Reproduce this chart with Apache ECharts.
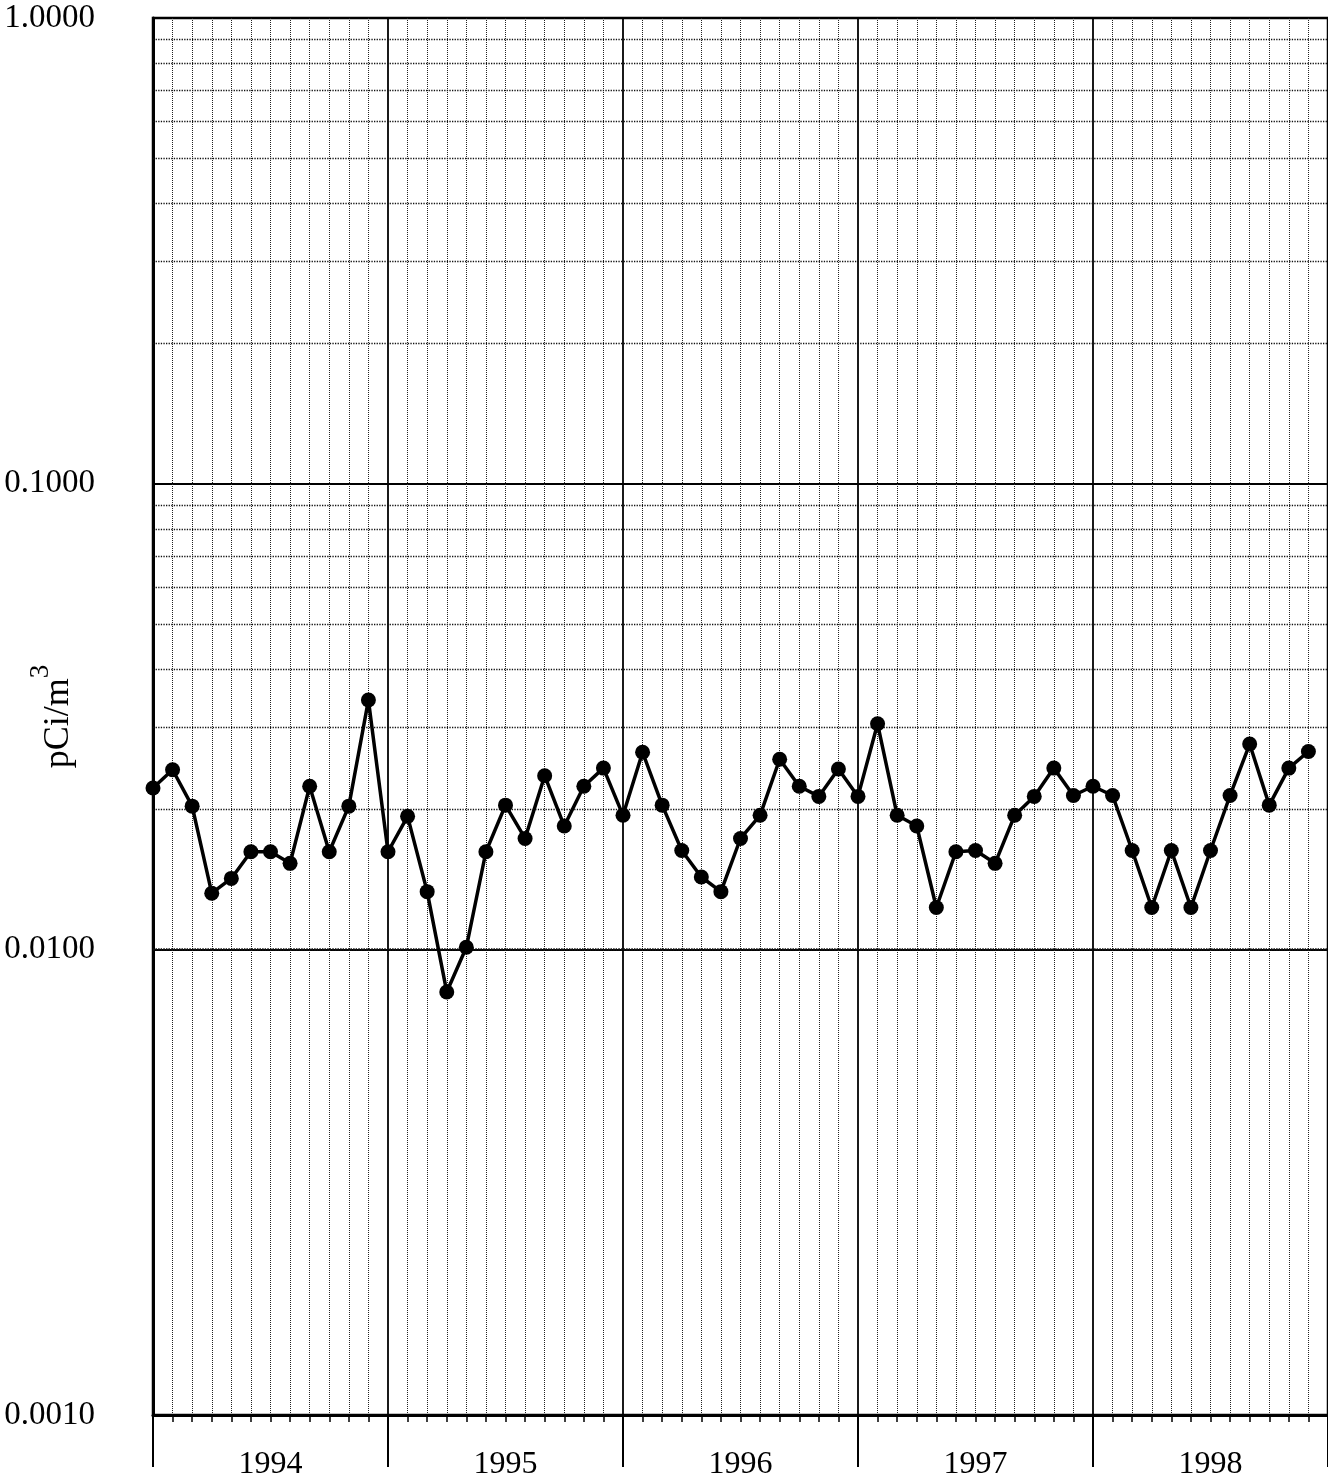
<!DOCTYPE html>
<html>
<head>
<meta charset="utf-8">
<script src="https://cdn.jsdelivr.net/npm/echarts@6/dist/echarts.min.js"></script>
<style>
html,body{margin:0;padding:0;background:#fff;}
#chart{width:1328px;height:1479px;}
</style>
</head>
<body>
<div id="chart"></div>
<script>
// Categories (years) and monthly values (pCi/m3), Jan..Dec of each year
var years = ['1994', '1995', '1996', '1997', '1998'];
var v1994 = [0.0222, 0.0243, 0.0203, 0.0132, 0.0142, 0.0162, 0.0162, 0.0153, 0.0224, 0.0162, 0.0203, 0.0343];
var v1995 = [0.0162, 0.0193, 0.0133, 0.0081, 0.0101, 0.0162, 0.0204, 0.0173, 0.0236, 0.0184, 0.0224, 0.0245];
var v1996 = [0.0194, 0.0265, 0.0204, 0.0163, 0.0143, 0.0133, 0.0173, 0.0194, 0.0256, 0.0224, 0.0213, 0.0244];
var v1997 = [0.0213, 0.0305, 0.0194, 0.0184, 0.0123, 0.0162, 0.0163, 0.0153, 0.0194, 0.0213, 0.0245, 0.0214];
var v1998 = [0.0224, 0.0214, 0.0163, 0.0123, 0.0163, 0.0123, 0.0163, 0.0214, 0.0276, 0.0204, 0.0245, 0.0266];
// Y axis tick labels and minor log grid multipliers
var yTickLabels = ['0.0010', '0.0100', '0.1000', '1.0000'];
var minorMultipliers = [2, 3, 4, 5, 6, 7, 8, 9];
var decades = [0.001, 0.01, 0.1];

var allValues = [].concat(v1994, v1995, v1996, v1997, v1998);
var seriesData = allValues.map(function (v, i) { return [i, v]; });
var minorLines = [];
decades.forEach(function (d) {
  minorMultipliers.forEach(function (m) { minorLines.push({ yAxis: +(d * m).toPrecision(3) }); });
});

var FONT = 'Liberation Serif';
var chart = echarts.init(document.getElementById('chart'), null, { renderer: 'canvas' });
chart.setOption({
  backgroundColor: '#ffffff',
  animation: false,
  grid: {
    left: 153, top: 18, right: 0, bottom: 64,
    show: true, borderColor: '#000', borderWidth: 2.5,
    containLabel: false, outerBoundsMode: 'none'
  },
  xAxis: [
    {
      type: 'value', min: 0, max: 60, interval: 12,
      axisLine: { show: true, lineStyle: { color: '#000', width: 3 } },
      axisTick: { show: true, length: 7, lineStyle: { color: '#000', width: 2 } },
      minorTick: { show: true, splitNumber: 12, length: 7, lineStyle: { color: '#000', width: 1.5 } },
      axisLabel: { show: false },
      splitLine: { show: true, lineStyle: { color: '#000', width: 1.8 } },
      minorSplitLine: { show: true, lineStyle: { color: '#222', width: 1, type: 'dotted' } }
    },
    {
      type: 'category', data: years, position: 'bottom', boundaryGap: true,
      axisLine: { show: false },
      axisTick: { show: true, length: 52, lineStyle: { color: '#000', width: 2 } },
      axisLabel: { show: true, margin: 34, fontFamily: FONT, fontSize: 32, color: '#000' },
      splitLine: { show: false }
    }
  ],
  yAxis: {
    type: 'log', logBase: 10, min: 0.001, max: 1,
    name: '{a|pCi/m}{b|3}',
    nameLocation: 'middle', nameGap: 76, nameMoveOverlap: false,
    nameTextStyle: {
      color: '#000', fontFamily: FONT, fontSize: 36,
      rich: {
        a: { fontFamily: FONT, fontSize: 36, color: '#000', lineHeight: 50, verticalAlign: 'bottom' },
        b: { fontFamily: FONT, fontSize: 27, color: '#000', lineHeight: 50, verticalAlign: 'top' }
      }
    },
    axisLine: { show: true, lineStyle: { color: '#000', width: 3 } },
    axisTick: { show: true, inside: true, length: 6, lineStyle: { color: '#000', width: 1.5 } },
    axisLabel: {
      margin: 58, fontFamily: FONT, fontSize: 33, color: '#000',
      formatter: function (v) {
        var idx = Math.round(Math.log10(v)) + 3;
        return yTickLabels[idx] !== undefined ? yTickLabels[idx] : v.toFixed(4);
      }
    },
    splitLine: { show: true, lineStyle: { color: '#000', width: 1.8 } }
  },
  series: [
    {
      type: 'line', xAxisIndex: 0, data: [], silent: true, z: 1,
      markLine: {
        silent: true, symbol: 'none', label: { show: false },
        lineStyle: { color: '#111', width: 1.3, type: 'dotted' },
        data: minorLines, animation: false
      }
    },
    {
      type: 'line', xAxisIndex: 0, data: seriesData, z: 5,
      symbol: 'circle', symbolSize: 15,
      lineStyle: { color: '#000', width: 3.5 },
      itemStyle: { color: '#000' }
    }
  ]
});
</script>
</body>
</html>
